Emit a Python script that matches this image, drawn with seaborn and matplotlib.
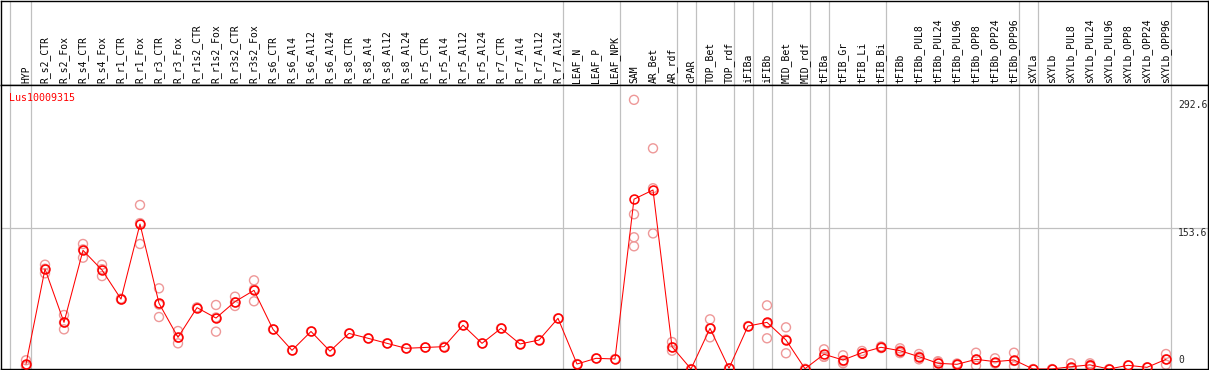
import matplotlib
matplotlib.use("Agg")
import matplotlib.pyplot as plt
import seaborn as sns

# === data ===
gene = "Lus10009315"
labels = ["HYP", "R_s2_CTR", "R_s2_Fox", "R_s4_CTR", "R_s4_Fox", "R_r1_CTR", "R_r1_Fox",
          "R_r3_CTR", "R_r3_Fox", "R_r1s2_CTR", "R_r1s2_Fox", "R_r3s2_CTR", "R_r3s2_Fox",
          "R_s6_CTR", "R_s6_Al4", "R_s6_Al12", "R_s6_Al24", "R_s8_CTR", "R_s8_Al4",
          "R_s8_Al12", "R_s8_Al24", "R_r5_CTR", "R_r5_Al4", "R_r5_Al12", "R_r5_Al24",
          "R_r7_CTR", "R_r7_Al4", "R_r7_Al12", "R_r7_Al24", "LEAF_N", "LEAF_P", "LEAF_NPK",
          "SAM", "AR_Bet", "AR_rdf", "cPAR", "TOP_Bet", "TOP_rdf", "iFIBa", "iFIBb",
          "MID_Bet", "MID_rdf", "tFIBa", "tFIB_Gr", "tFIB_Li", "tFIB_Bi", "tFIBb",
          "tFIBb_PUL8", "tFIBb_PUL24", "tFIBb_PUL96", "tFIBb_OPP8", "tFIBb_OPP24",
          "tFIBb_OPP96", "sXYLa", "sXYLb", "sXYLb_PUL8", "sXYLb_PUL24", "sXYLb_PUL96",
          "sXYLb_OPP8", "sXYLb_OPP24", "sXYLb_OPP96"]
means = [5.4, 108.7, 50.7, 129, 107.6, 76, 157.6, 71.4, 34.4, 66.7, 55.4, 73.2, 85.5,
         43.1, 20.3, 40.8, 19.4, 38.7, 33.4, 27.9, 22.5, 23.4, 24.3, 47.6, 27.9,
         44.2, 27.2, 31.5, 55.1, 5.4, 11.6, 10.9,
         184.6, 194.6, 24.3, 0, 44.2, 0.8, 46.7, 50.7, 31.5, 0.3,
         16, 9.8, 17.7, 23.6, 19.9, 13.4, 6.2, 5.1, 10.5, 8, 9.8,
         0, 0, 2.5, 4.5, 0, 4, 1.8, 10.5]
reps = [[9.5, 4, 3], [113.4, 109, 104], [58.7, 50.5, 43.1], [135.9, 130, 121],
        [113.4, 108.5, 101], [76.5, 75.5], [178.3, 158.6, 135.9], [87.7, 70, 56.5],
        [41.3, 34, 27.9], [67, 66.4], [69.6, 56, 40.6], [78.6, 72.5, 68.5],
        [96.4, 86.5, 73.6], [43.1], [20.3], [40.8], [19.4], [38.7], [33.4], [27.9],
        [22.5], [23.4], [24.3], [47.6], [27.9], [44.2], [27.2], [31.5], [55.1],
        [5.4], [11.6], [10.9],
        [292.6, 168.2, 143.2, 133.4], [239.9, 196.5, 147.4], [29.3, 23.7, 19.9], [0],
        [54, 44.2, 34.4], [0.8], [46.7], [69.2, 49.5, 33.4], [45.3, 32, 17.1], [0.3],
        [21.4, 13.4, 13.2], [14.9, 8.3, 6.2], [19.6, 16.5, 17], [24.5, 22.7],
        [22.5, 19.9, 17.3], [16.3, 13.4, 10.5], [8.5, 7.6, 2.5], [6, 4.2],
        [17.7, 10.2, 3.6], [11.6, 6.2, 6.2], [17.7, 8.7, 3],
        [0], [0], [6.2, 1, 0.3], [6.2, 4.5, 2.8], [0], [4], [1.8], [16.3, 10.5, 4.7]]
group_ends = [0, 28, 31, 34, 35, 37, 38, 39, 41, 42, 45, 52, 53, 60]
y_marks = [292.6, 153.6, 0]

xs = list(range(len(labels)))
rep_x = [i for i, r in enumerate(reps) for _ in r]
rep_y = [v for r in reps for v in r]

sns.set_style("white")
plt.rcParams["font.family"] = ["DejaVu Sans Mono"]

# === layout in pixels ===
W, H = 1209, 370
head_px, bot_px = 85, 369
x0, dx = 26, 19            # first column pixel, column step
k = (369 - 227.7) / 153.6  # pixels per unit
xmin, xmax = (1 - x0) / dx, (1208 - x0) / dx

fig = plt.figure(figsize=(W / 100, H / 100), dpi=100)
ax_head = fig.add_axes([1 / W, (H - head_px) / H, 1207 / W, (head_px - 0.5) / H])
ax = fig.add_axes([1 / W, (H - bot_px) / H, 1207 / W, (bot_px - head_px) / H])

grid_c = "#c0c0c0"
bounds = [-0.84] + [g + 0.24 for g in group_ends]
for a in (ax_head, ax):
    a.set_xlim(xmin, xmax)
    for b in bounds:
        a.axvline(b, color=grid_c, lw=0.9, zorder=0)
    a.set_xticks([])
    a.set_yticks([])
    for s in a.spines.values():
        s.set_color("black")
        s.set_linewidth(1.0)

ax_head.set_ylim(0, head_px)
for i, lab in enumerate(labels):
    ax_head.text(i, 2, lab, rotation=90, ha="center", va="bottom", fontsize=7, color="black")

ax.set_ylim(0, (bot_px - head_px) / k)
ax.axhline(153.6, color=grid_c, lw=0.9, zorder=0)

sns.scatterplot(x=rep_x, y=rep_y, ax=ax, marker="o", s=42, facecolors="none",
                edgecolor="#ee9898", linewidth=1.0, zorder=2)
sns.lineplot(x=xs, y=means, ax=ax, color="red", lw=0.75, marker="o", markersize=6.4,
             mfc="none", mec="red", mew=1.15, zorder=3)

tx = (1178 - x0) / dx
ax.text(tx, y_marks[0], f"{y_marks[0]}", ha="left", va="top", fontsize=7)
ax.text(tx, y_marks[1], f"{y_marks[1]}", ha="left", va="top", fontsize=7)
ax.text(tx, y_marks[2] + 4, f"{y_marks[2]}", ha="left", va="bottom", fontsize=7)

ax.text(8 / 1207, 1 - 8 / (bot_px - head_px), gene, transform=ax.transAxes,
        ha="left", va="top", fontsize=7.2, color="red")

fig.savefig("out.png", dpi=100)
